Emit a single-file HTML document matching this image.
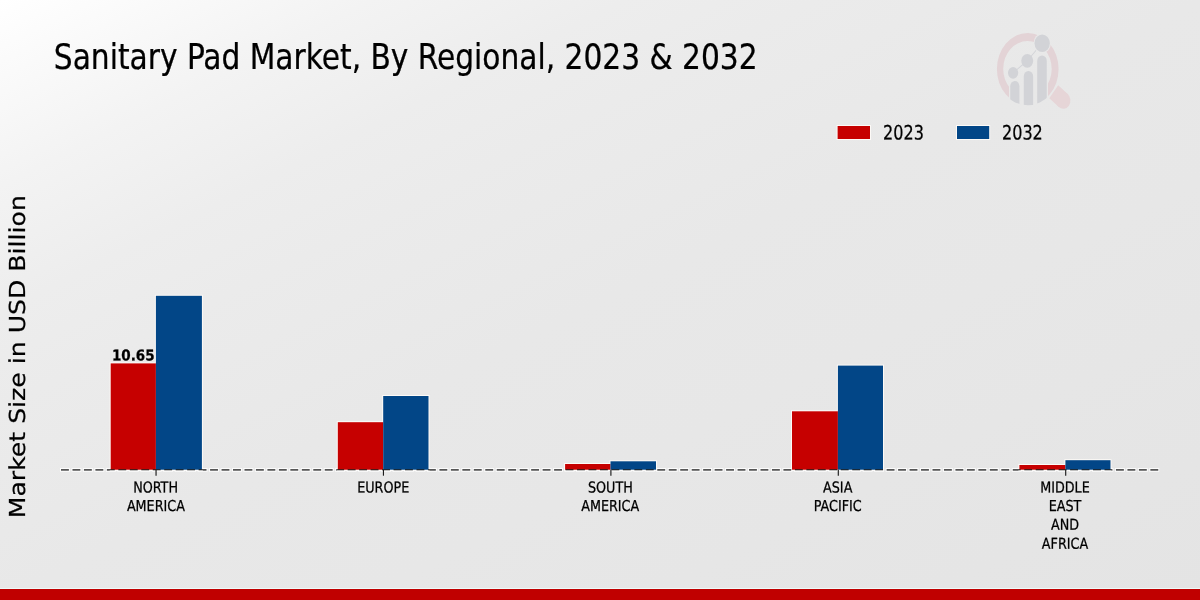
<!DOCTYPE html>
<html lang="en">
<head>
<meta charset="utf-8">
<title>Sanitary Pad Market, By Regional, 2023 &amp; 2032</title>
<style>
html,body{margin:0;padding:0;width:1200px;height:600px;overflow:hidden;background:#e8e8e8;}
svg{display:block;position:absolute;left:0;top:0;}
text{stroke:#000;stroke-width:0.25px;}
.c{font-family:"DejaVu Sans Condensed","DejaVu Sans","Liberation Sans",sans-serif;font-stretch:condensed;fill:#000;}
.r{font-family:"DejaVu Sans","Liberation Sans",sans-serif;fill:#000;}
.b{font-weight:bold;}
</style>
</head>
<body>
<svg width="1200" height="600" viewBox="0 0 1200 600">
  <defs>
    <linearGradient id="bg" gradientUnits="userSpaceOnUse" x1="0" y1="0" x2="480" y2="960">
      <stop offset="0" stop-color="#ffffff"/>
      <stop offset="0.155" stop-color="#f3f3f3"/>
      <stop offset="0.26" stop-color="#ededed"/>
      <stop offset="0.34" stop-color="#ebebeb"/>
      <stop offset="0.5" stop-color="#e8e8e8"/>
      <stop offset="0.65" stop-color="#e7e7e7"/>
      <stop offset="1" stop-color="#e4e4e4"/>
    </linearGradient>
  </defs>
  <rect x="0" y="0" width="1200" height="600" fill="url(#bg)"/>


  <!-- logo -->
  <defs>
    <clipPath id="ringclip"><path d="M980,20 H1090 V120 H980 Z M1009,70 V120 H1048 V70 Z" clip-rule="evenodd"/></clipPath>
    <clipPath id="lens"><circle cx="0" cy="0" r="37"/></clipPath>
  </defs>
  <g clip-path="url(#ringclip)">
    <path fill="#e3d3d6" fill-rule="evenodd" d="M996.90,69.05 a30.85,36.15 0 1 0 61.70,0 a30.85,36.15 0 1 0 -61.70,0 Z M1003.20,68.9 a24.25,27.8 0 1 0 48.50,0 a24.25,27.8 0 1 0 -48.50,0 Z"/>
  </g>
  <g transform="translate(1027.5,68.3) scale(0.868,1)">
    <g transform="rotate(38.5)" fill="#e6d5d7">
      <rect x="38.3" y="-8.7" width="14" height="16.5"/>
      <circle cx="52.3" cy="-0.45" r="8.25"/>
    </g>
    <g clip-path="url(#lens)" fill="#d2d3d7">
      <path d="M-19.9,60 V17.9 a5.3,5.3 0 0 1 10.6,0 V60 Z"/>
      <path d="M-4.3,60 V8.1 a5.4,5.4 0 0 1 10.8,0 V60 Z"/>
      <path d="M11.2,60 V-7.4 a5.5,5.5 0 0 1 11,0 V60 Z"/>
    </g>
    <polyline points="-16.6,4.5 -0.3,-7.5 16.9,-25.1" fill="none" stroke="#d4d5d9" stroke-width="1.1"/>
    <circle cx="16.9" cy="-25.1" r="10" fill="#e9e9e9"/>
    <circle cx="-16.6" cy="4.5" r="5.9" fill="#d2d3d7"/>
    <circle cx="-0.3" cy="-7.5" r="6.9" fill="#d2d3d7"/>
    <circle cx="16.9" cy="-25.1" r="8.8" fill="#d2d3d7"/>
  </g>

  <!-- title -->
  <text class="c" transform="translate(53.8,68.6) scale(0.917,1)" font-size="36">Sanitary Pad Market, By Regional, 2023 &amp; 2032</text>

  <!-- y label -->
  <text class="r" transform="translate(24.6,356.7) scale(0.875,1) rotate(-89.97)" font-size="25.15" text-anchor="middle">Market Size in USD Billion</text>

  <!-- legend -->
  <rect x="836.6" y="125" width="34.4" height="15" fill="#fdfaf7"/>
  <rect x="956" y="125" width="34.2" height="15" fill="#fdfaf7"/>
  <rect x="837.6" y="126" width="32.4" height="13" fill="#c60000"/>
  <text class="c" transform="translate(883.1,139.6) scale(0.9,1) rotate(0.03)" font-size="19.8">2023</text>
  <rect x="957" y="126" width="32.2" height="13" fill="#024687"/>
  <text class="c" transform="translate(1002,139.6) scale(0.9,1) rotate(0.03)" font-size="19.8">2032</text>

  <!-- sharpening halos -->
  <line x1="60" y1="469.8" x2="1159.7" y2="469.8" stroke="#ffffff" stroke-opacity="0.85" stroke-width="3.8" stroke-dasharray="9.9 1.567"/>
  <g fill="#fdfaf7">
    <rect x="109.7" y="362.4" width="47.2" height="108.3"/>
    <rect x="154.9" y="294.8" width="48.0" height="175.9"/>
    <rect x="336.8" y="421.2" width="47.4" height="49.5"/>
    <rect x="382.2" y="395.0" width="47.3" height="75.7"/>
    <rect x="564.1" y="463.0" width="47.4" height="7.7"/>
    <rect x="609.5" y="460.3" width="47.5" height="10.4"/>
    <rect x="791.0" y="410.3" width="47.9" height="60.4"/>
    <rect x="836.9" y="364.6" width="47.1" height="106.1"/>
    <rect x="1018.4" y="464.0" width="48.0" height="6.7"/>
    <rect x="1064.4" y="459.2" width="47.1" height="11.5"/>
  </g>

  <!-- bars -->
  <g>
    <rect x="110.7" y="363.4" width="45.2" height="106.3" fill="#c60000"/>
    <rect x="155.9" y="295.8" width="46" height="173.9" fill="#024687"/>
    <rect x="337.8" y="422.2" width="45.4" height="47.5" fill="#c60000"/>
    <rect x="383.2" y="396" width="45.3" height="73.7" fill="#024687"/>
    <rect x="565.1" y="464" width="45.4" height="5.7" fill="#c60000"/>
    <rect x="610.5" y="461.3" width="45.5" height="8.4" fill="#024687"/>
    <rect x="792" y="411.3" width="45.9" height="58.4" fill="#c60000"/>
    <rect x="837.9" y="365.6" width="45.1" height="104.1" fill="#024687"/>
    <rect x="1019.4" y="465" width="46" height="4.7" fill="#c60000"/>
    <rect x="1065.4" y="460.2" width="45.1" height="9.5" fill="#024687"/>
  </g>

  <!-- value label -->
  <text class="c b" transform="translate(133.3,360.6) scale(1.0,1) rotate(0.03)" font-size="15" text-anchor="middle">10.65</text>

  <!-- baseline -->
  <line x1="61" y1="469.8" x2="1158.7" y2="469.8" stroke="#000" stroke-opacity="0.66" stroke-width="1.8" stroke-dasharray="7.9 3.567"/>
  <g fill="#ffffff" fill-opacity="0.5">
    <rect x="109.7" y="470" width="93.2" height="1"/>
    <rect x="336.8" y="470" width="92.7" height="1"/>
    <rect x="564.1" y="470" width="92.9" height="1"/>
    <rect x="791.0" y="470" width="93.0" height="1"/>
    <rect x="1018.4" y="470" width="93.1" height="1"/>
  </g>
  <g stroke="#1c1c1c" stroke-width="1.15">
    <line x1="156.05" y1="469.8" x2="156.05" y2="475.7"/>
    <line x1="383.45" y1="469.8" x2="383.45" y2="475.7"/>
    <line x1="610.9" y1="469.8" x2="610.9" y2="475.7"/>
    <line x1="838.3" y1="469.8" x2="838.3" y2="475.7"/>
    <line x1="1065.7" y1="469.8" x2="1065.7" y2="475.7"/>
  </g>

  <!-- tick labels -->
  <g class="c" font-size="15" text-anchor="middle">
    <text transform="translate(155.6,492.6) scale(0.945,1) rotate(0.03)">NORTH</text>
    <text transform="translate(155.9,510.9) scale(0.945,1) rotate(0.03)">AMERICA</text>
    <text transform="translate(383.2,492.6) scale(0.945,1) rotate(0.03)">EUROPE</text>
    <text transform="translate(610.4,492.6) scale(0.945,1) rotate(0.03)">SOUTH</text>
    <text transform="translate(610.2,510.9) scale(0.945,1) rotate(0.03)">AMERICA</text>
    <text transform="translate(837.7,492.6) scale(0.945,1) rotate(0.03)">ASIA</text>
    <text transform="translate(837.7,510.9) scale(0.945,1) rotate(0.03)">PACIFIC</text>
    <text transform="translate(1065,492.6) scale(0.945,1) rotate(0.03)">MIDDLE</text>
    <text transform="translate(1065,511.0) scale(0.945,1) rotate(0.03)">EAST</text>
    <text transform="translate(1065,529.7) scale(0.945,1) rotate(0.03)">AND</text>
    <text transform="translate(1065,548.7) scale(0.945,1) rotate(0.03)">AFRICA</text>
  </g>

  <!-- bottom strip -->
  <rect x="0" y="588" width="1200" height="1" fill="#eefafa"/>
  <rect x="0" y="589" width="1200" height="11" fill="#c00000"/>
</svg>
</body>
</html>
